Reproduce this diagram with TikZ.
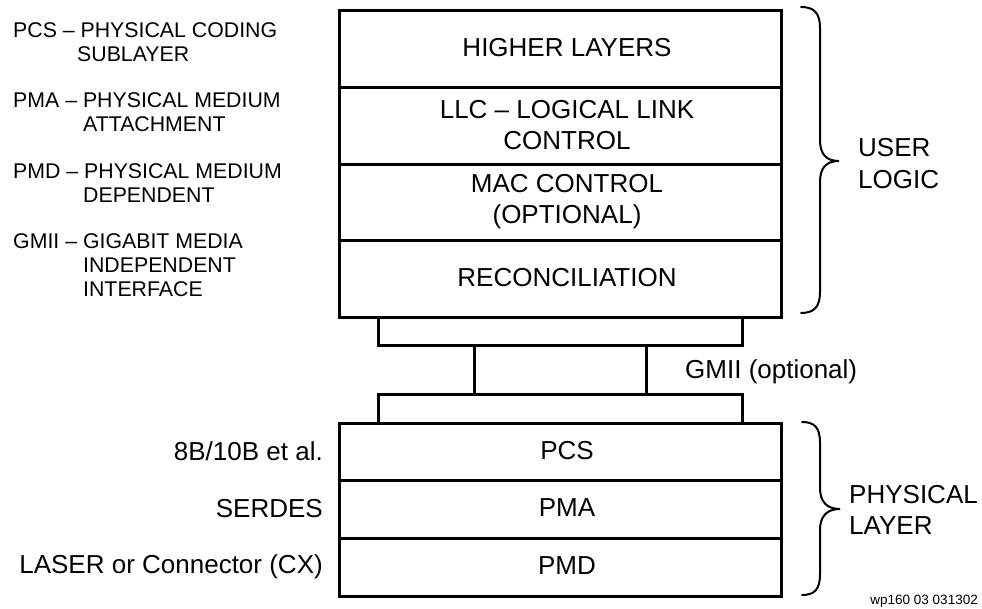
\documentclass[tikz,border=0pt]{standalone}
\usepackage{fontspec}
\setmainfont{Liberation Sans}
\begin{document}
\begin{tikzpicture}[x=1pt,y=-1pt,
  layerbox/.style={draw, line width=2.6pt, inner sep=0pt, anchor=north west, minimum width=442pt},
  barbox/.style={draw, line width=2.6pt, inner sep=0pt, anchor=north west},
  lbl/.style={inner sep=0pt, align=center, font=\fontsize{26}{31}\selectfont},
  side/.style={inner sep=0pt, font=\fontsize{26}{31}\selectfont},
  legend/.style={inner sep=0pt, anchor=base west, align=left, font=\fontsize{21.3}{24.5}\selectfont},
  brc/.style={line width=2pt, line cap=round}]
\useasboundingbox (0,0) rectangle (982,609);
% upper stack
\node[layerbox, minimum height=77pt] (hl) at (338,9) {};
\node[layerbox, minimum height=77pt] (llc) at (338,86) {};
\node[layerbox, minimum height=76pt] (mac) at (338,163) {};
\node[layerbox, minimum height=77pt] (rec) at (338,239) {};
\node[lbl] (thl) at (567,47.5) {HIGHER LAYERS};
\node[lbl] (tllc) at (567,125) {LLC – LOGICAL LINK\\CONTROL};
\node[lbl] (tmac) at (567,202) {MAC CONTROL\\(OPTIONAL)};
\node[lbl] (trec) at (567,278) {RECONCILIATION};
% GMII bars
\node[barbox, minimum width=364pt, minimum height=28pt] (bar1) at (377,316) {};
\node[barbox, minimum width=172pt, minimum height=49pt] (mid) at (473,344) {};
\node[barbox, minimum width=364pt, minimum height=29pt] (bar2) at (377,393) {};
% lower stack
\node[layerbox, minimum height=57pt] (pcs) at (338,422) {};
\node[layerbox, minimum height=58pt] (pma) at (338,479) {};
\node[layerbox, minimum height=58pt] (pmd) at (338,537) {};
\node[lbl] (tpcs) at (567,451) {PCS};
\node[lbl] (tpma) at (567,508) {PMA};
\node[lbl] (tpmd) at (567,566) {PMD};
% side labels
\node[side, anchor=base east] (l8b) at (323,460) {8B/10B et al.};
\node[side, anchor=base east] (lser) at (323,517) {SERDES};
\node[side, anchor=base east] (llas) at (323,573) {LASER or Connector (CX)};
\node[side, anchor=base west] (lgmii) at (685,378) {GMII (optional)};
\node[side, anchor=base west, align=left, font=\fontsize{26}{32}\selectfont] (luser) at (858,189) {USER\\LOGIC};
\node[side, anchor=base west, align=left, font=\fontsize{26}{31}\selectfont] (lphy) at (849,534) {PHYSICAL\\LAYER};
% legend (anchored at the baseline of the last line)
\node[legend] (gpcs) at (13,62) {PCS – PHYSICAL CODING\\\hspace*{64pt}SUBLAYER};
\node[legend] (gpma) at (13,132) {PMA – PHYSICAL MEDIUM\\\hspace*{70pt}ATTACHMENT};
\node[legend] (gpmd) at (13,203) {PMD – PHYSICAL MEDIUM\\\hspace*{70pt}DEPENDENT};
\node[legend, font=\fontsize{21.3}{24}\selectfont] (ggmii) at (13,297) {GMII – GIGABIT MEDIA\\\hspace*{70pt}INDEPENDENT\\\hspace*{70pt}INTERFACE};
% braces
\draw[brc] (801,7) .. controls (814,7) and (820,13) .. (820,28) -- (820,140)
  .. controls (820,154) and (826,161) .. (839,161)
  .. controls (826,161) and (820,168) .. (820,182) -- (820,292)
  .. controls (820,307) and (814,313) .. (801,313);
\draw[brc] (802,422) .. controls (815,422) and (820,428) .. (820,443) -- (820,488)
  .. controls (820,502) and (827,509) .. (840,509)
  .. controls (827,509) and (820,516) .. (820,530) -- (820,574)
  .. controls (820,589) and (815,595) .. (802,595);
% figure id
\node[inner sep=0pt, anchor=base east, font=\fontsize{13.5}{16}\selectfont] (wid) at (978,604) {wp160 03 031302};
\end{tikzpicture}
\end{document}
